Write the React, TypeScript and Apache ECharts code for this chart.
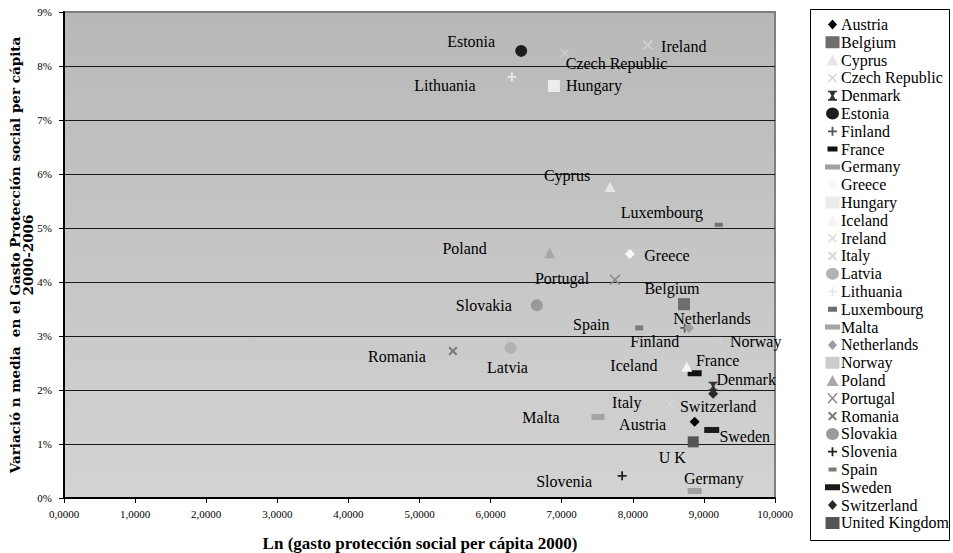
import React, { useEffect, useRef } from "react";
import * as echarts from "echarts";

// ---- data ----
const countries = [
  "Austria", "Belgium", "Cyprus", "Czech Republic", "Denmark", "Estonia", "Finland", "France",
  "Germany", "Greece", "Hungary", "Iceland", "Ireland", "Italy", "Latvia", "Lithuania",
  "Luxembourg", "Malta", "Netherlands", "Norway", "Poland", "Portugal", "Romania", "Slovakia",
  "Slovenia", "Spain", "Sweden", "Switzerland", "United Kingdom",
];
const pointLabels = [
  "Austria", "Belgium", "Cyprus", "Czech Republic", "Denmark", "Estonia", "Finland", "France",
  "Germany", "Greece", "Hungary", "Iceland", "Ireland", "Italy", "Latvia", "Lithuania",
  "Luxembourg", "Malta", "Netherlands", "Norway", "Poland", "Portugal", "Romania", "Slovakia",
  "Slovenia", "Spain", "Sweden", "Switzerland", "U K",
];
// Ln (gasto protección social per cápita 2000)
const lnSpending2000 = [
  8.87, 8.72, 7.68, 7.04, 9.13, 6.43, 8.73, 8.87,
  8.87, 7.96, 6.89, 8.76, 8.21, 8.52, 6.28, 6.30,
  9.21, 7.51, 8.79, 9.18, 6.83, 7.75, 5.47, 6.65,
  7.85, 8.09, 9.11, 9.13, 8.85,
];
// Variación media 2000-2006 (%)
const growth2000to2006 = [
  1.41, 3.59, 5.76, 8.24, 2.07, 8.28, 3.15, 2.31,
  0.13, 4.52, 7.63, 2.43, 8.39, 1.74, 2.78, 7.80,
  5.06, 1.50, 3.15, 2.89, 4.54, 4.04, 2.72, 3.57,
  0.41, 3.15, 1.26, 1.93, 1.04,
];
const xTickMin = 0;
const xTickMax = 10;
const yTickMin = 0;
const yTickMax = 9;

// ---- styles ----
const FONT = '"Liberation Serif", "Times New Roman", serif';
// polygons in a 10x10 unit box
const POLYS: Record<string, number[][]> = {
  diamond: [[5, 0], [10, 5], [5, 10], [0, 5]],
  square: [[0, 0], [10, 0], [10, 10], [0, 10]],
  triangle: [[5, 0], [10, 10], [0, 10]],
  cross: [[0, 1], [1, 0], [5, 4], [9, 0], [10, 1], [6, 5], [10, 9], [9, 10], [5, 6], [1, 10], [0, 9], [4, 5]],
  boldCross: [[0, 1.6], [1.6, 0], [5, 3.4], [8.4, 0], [10, 1.6], [6.6, 5], [10, 8.4], [8.4, 10], [5, 6.6], [1.6, 10], [0, 8.4], [3.4, 5]],
  star: [[0, 0], [10, 0], [10, 1.6], [8.2, 1.6], [6.2, 5], [8.2, 8.4], [10, 8.4], [10, 10], [0, 10], [0, 8.4], [1.8, 8.4], [3.8, 5], [1.8, 1.6], [0, 1.6]],
  plus: [[4, 0], [6, 0], [6, 4], [10, 4], [10, 6], [6, 6], [6, 10], [4, 10], [4, 6], [0, 6], [0, 4], [4, 4]],
  dash: [[0, 0], [10, 0], [10, 10], [0, 10]],
};
function shapePath(shape: string, x: number, y: number, w: number, h: number): string {
  if (shape === "circle") {
    const cx = x + w / 2;
    return `M${cx},${y}A${w / 2},${h / 2},0,1,1,${cx},${y + h}A${w / 2},${h / 2},0,1,1,${cx},${y}Z`;
  }
  const pts = POLYS[shape].map(([px, py]) => `${(x + (px * w) / 10).toFixed(2)},${(y + (py * h) / 10).toFixed(2)}`);
  return "M" + pts.join("L") + "Z";
}
// shape, chart size [w,h], colour, legend size [w,h]  (order = countries)
const markStyles: [string, number[], string, number[]][] = [
  ["diamond", [10, 10], "#000000", [9, 10]],
  ["square", [12, 12], "#6e6e6e", [14, 12]],
  ["triangle", [11, 10], "#e6e6e6", [12, 11]],
  ["cross", [9, 9], "#cfcfcf", [9, 9]],
  ["star", [9, 9], "#333333", [9, 10]],
  ["circle", [12, 12], "#1e1e1e", [13, 12]],
  ["plus", [9, 9], "#555555", [9, 9]],
  ["dash", [14, 6], "#111111", [10, 5]],
  ["dash", [14, 6], "#a0a0a0", [15, 5]],
  ["diamond", [10, 10], "#f8f8f8", [9, 10]],
  ["square", [12, 12], "#ececec", [14, 12]],
  ["triangle", [11, 10], "#f4f4f4", [12, 11]],
  ["cross", [10, 10], "#d6d6d6", [9, 9]],
  ["boldCross", [10, 10], "#d4d4d4", [9, 9]],
  ["circle", [12, 12], "#b2b2b2", [13, 12]],
  ["plus", [9, 9], "#e8e8e8", [9, 9]],
  ["dash", [8, 4], "#6e6e6e", [9, 5]],
  ["dash", [13, 6], "#a4a4a4", [15, 5]],
  ["diamond", [10, 10], "#9c9c9c", [9, 10]],
  ["square", [10, 10], "#cccccc", [14, 12]],
  ["triangle", [11, 11], "#a8a8a8", [12, 11]],
  ["cross", [11, 11], "#8c8c8c", [10, 11]],
  ["boldCross", [9, 9], "#777777", [9, 9]],
  ["circle", [12, 12], "#999999", [13, 12]],
  ["plus", [9, 9], "#222222", [9, 9]],
  ["dash", [8, 5], "#7a7a7a", [8, 4]],
  ["dash", [15, 6], "#1a1a1a", [15, 6]],
  ["diamond", [10, 10], "#2a2a2a", [9, 10]],
  ["square", [11, 11], "#555555", [14, 12]],
];
// label centre offset from the mark, px (order = countries)
const labelOffsets: number[][] = [
  [-52, 3], [-12, -16], [-43, -11], [52, 10], [33, -7], [-50, -9], [-30, 14], [23, -13],
  [19, -12], [37, 2], [40, 0], [-53, -1], [36, 2], [-43, -2], [-3, 20], [-67, 9],
  [-57, -12], [-57, 0], [23, -9], [39, 0], [-85, -4], [-53, -1], [-56, 5], [-53, 0],
  [-58, 6], [-48, -3], [33, 7], [5, 13], [-21, 16],
];

const GRID = { left: 64, top: 12, width: 711, height: 486 };
const LEG_W = 15;
const LEG_H = 12;

export default function App() {
  const ref = useRef<HTMLDivElement>(null);
  useEffect(() => {
    if (!ref.current) return;
    const chart = echarts.init(ref.current, undefined, { renderer: "svg" });
    const series = countries.map((name, i) => {
      const [shape, size, color] = markStyles[i];
      return {
        type: "scatter",
        name,
        data: [[lnSpending2000[i], growth2000to2006[i]]],
        symbol: "path://" + shapePath(shape, 0, 0, size[0], size[1]),
        symbolSize: size,
        symbolKeepAspect: false,
        itemStyle: { color, opacity: 1, borderWidth: 0 },
        silent: true,
        label: {
          show: true,
          formatter: pointLabels[i],
          position: "inside",
          offset: labelOffsets[i],
          color: "#000",
          fontFamily: FONT,
          fontSize: 16,
          textBorderWidth: 0,
          align: "center",
          verticalAlign: "middle",
        },
        emphasis: { disabled: true },
      };
    });
    const legendData = countries.map((name, i) => {
      const [shape, , , lsize] = markStyles[i];
      const [w, h] = lsize;
      const icon =
        `path://M0,0L0,0ZM${LEG_W},${LEG_H}L${LEG_W},${LEG_H}Z` +
        shapePath(shape, LEG_W / 2 - w / 2, LEG_H / 2 - h / 2, w, h);
      return { name, icon };
    });
    chart.setOption({
      animation: false,
      backgroundColor: "#ffffff",
      grid: {
        ...GRID,
        show: true,
        backgroundColor: {
          type: "linear", x: 0, y: 0, x2: 0, y2: 1,
          colorStops: [
            { offset: 0, color: "#b8b8b8" },
            { offset: 1, color: "#d3d3d3" },
          ],
        },
        borderColor: "#808080",
        borderWidth: 2,
      },
      xAxis: {
        type: "value",
        min: xTickMin,
        max: xTickMax,
        interval: 1,
        axisLine: { show: true, lineStyle: { color: "#000", width: 2 } },
        axisTick: { show: true, length: 5, lineStyle: { color: "#000" } },
        splitLine: { show: false },
        axisLabel: {
          fontFamily: FONT,
          fontSize: 11,
          color: "#000",
          margin: 10,
          formatter: (v: number) => v.toFixed(4).replace(".", ","),
        },
      },
      yAxis: {
        type: "value",
        min: yTickMin,
        max: yTickMax,
        interval: 1,
        axisLine: { show: true, lineStyle: { color: "#000", width: 2 } },
        axisTick: { show: true, length: 5, lineStyle: { color: "#000" } },
        splitLine: {
          show: true,
          showMinLine: false,
          showMaxLine: false,
          lineStyle: { color: "#1a1a1a", width: 1 },
        },
        axisLabel: {
          fontFamily: FONT,
          fontSize: 11,
          color: "#000",
          margin: 12,
          formatter: (v: number) => `${v}%`,
        },
      },
      legend: {
        data: legendData,
        orient: "vertical",
        left: 825,
        top: 16.5,
        padding: 0,
        itemWidth: LEG_W,
        itemHeight: LEG_H,
        itemGap: 1.8,
        symbolKeepAspect: false,
        itemStyle: { borderWidth: 0 },
        selectedMode: false,
        textStyle: { fontFamily: FONT, fontSize: 16, color: "#000", lineHeight: 16, padding: [0, 0, 0, -4] },
      },
      graphic: [
        {
          type: "rect",
          shape: { x: 810.5, y: 9.5, width: 139, height: 531 },
          style: { fill: "none", stroke: "#000", lineWidth: 1 },
          silent: true,
          z: -1,
        },
        {
          type: "text",
          x: 21,
          y: 255,
          rotation: Math.PI / 2,
          style: {
            text: "Variació n media  en el Gasto Protección social per cápita\n2000-2006",
            fontFamily: '"DejaVu Serif", serif',
            fontSize: 13.5,
            fontWeight: "bold",
            lineHeight: 13,
            fill: "#000",
            align: "center",
            verticalAlign: "middle",
          },
          silent: true,
        },
        {
          type: "text",
          x: 420,
          y: 543,
          style: {
            text: "Ln (gasto protección social per cápita 2000)",
            fontFamily: FONT,
            fontSize: 17,
            fontWeight: "bold",
            fill: "#000",
            align: "center",
            verticalAlign: "middle",
          },
          silent: true,
        },
      ],
      series,
    });
    return () => chart.dispose();
  }, []);
  return (
    <div
      ref={ref}
      style={{ position: "absolute", left: 0, top: 0, width: 953, height: 553 }}
    />
  );
}
